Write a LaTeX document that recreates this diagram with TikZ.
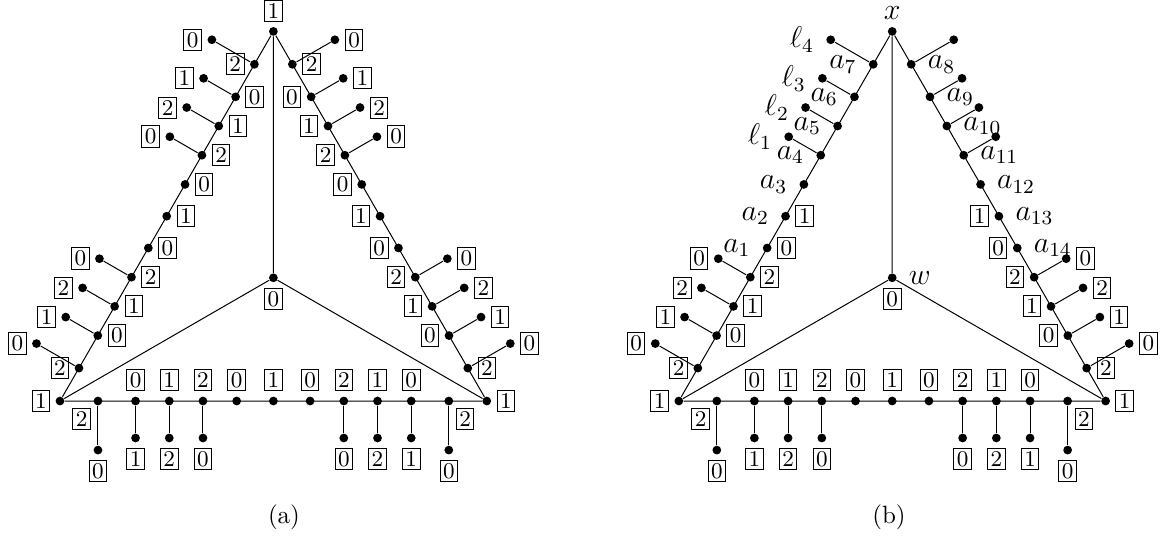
\documentclass[tikz,border=0pt]{standalone}
\usetikzlibrary{calc,positioning}
\begin{document}
\begin{tikzpicture}[
		dot/.style={circle,fill,inner sep=0pt,minimum size=3.5pt},
		num/.style={draw,inner sep=1.2pt,font=\small},
		var/.style={inner sep=1pt,font=\large},
		node distance=2pt]
	\useasboundingbox (-0.8435,-1.8839) rectangle (15.535,5.6376);
	\foreach \d/\sx in {a/0,b/8.7}{
		\node[dot] (\d-L) at (\sx,0) {};
		\node[dot] (\d-R) at (\sx+6,0) {};
		\node[dot] (\d-T) at (\sx+3,5.196) {};
		\node[dot] (\d-w) at (\sx+3,1.732) {};
		\draw (\d-L)--(\d-T)--(\d-R)--(\d-L);
		\draw (\d-w)--(\d-T) (\d-w)--(\d-L) (\d-w)--(\d-R);
		\node[num,left=of \d-L] {1};
		\node[num,right=of \d-R] {1};
		\node[num,below=of \d-w] {0};
		%% points on the sides
		\foreach \p [count=\k] in {0.089,0.177,0.256,0.335,0.414,0.5,0.586,0.665,0.744,0.823,0.911}{
			\node[dot] (\d-l\k) at ($(\d-L)!\p!(\d-T)$) {};
			\node[dot] (\d-r\k) at ($(\d-R)!\p!(\d-T)$) {};
			\node[dot] (\d-b\k) at ($(\d-L)!\p!(\d-R)$) {};
		}
		\foreach \k/\len in {1/0.69,2/0.52,3/0.52,4/0.52,8/0.52,9/0.52,10/0.52,11/0.69}{
			\node[dot] (\d-lx\k) at ($(\d-l\k)+(150:\len)$) {};
			\node[dot] (\d-rx\k) at ($(\d-r\k)+(30:\len)$) {};
			\node[dot] (\d-bx\k) at ($(\d-b\k)+(270:\len)$) {};
			\draw (\d-l\k)--(\d-lx\k);
			\draw (\d-r\k)--(\d-rx\k);
			\draw (\d-b\k)--(\d-bx\k);
		}
		%% bottom
		\foreach \k/\t in {2/0,3/1,4/2,5/0,6/1,7/0,8/2,9/1,10/0}
			\node[num,above=of \d-b\k] {\t};
		\node[num,below left=of \d-b1] {2};
		\node[num,below right=of \d-b11] {2};
		\foreach \k/\t in {1/0,2/1,3/2,4/0,8/0,9/2,10/1,11/0}
			\node[num,below=of \d-bx\k] {\t};
		%% lower part of the sides
		\node[num,left=of \d-l1] {2};
		\node[num,right=of \d-r1] {2};
		\foreach \k/\t in {2/0,3/1,4/2,5/0,6/1}{
			\node[num,right=of \d-l\k] {\t};
			\node[num,left=of \d-r\k] {\t};
		}
		\foreach \k/\t in {1/0,2/1,3/2,4/0}{
			\node[num,left=of \d-lx\k] {\t};
			\node[num,right=of \d-rx\k] {\t};
		}
	}
	%% upper part of (a)
	\node[num,above=of a-T] {1};
	\node[num,left=of a-l11] {2};
	\node[num,right=of a-r11] {2};
	\foreach \k/\t in {7/0,8/2,9/1,10/0}{
		\node[num,right=of a-l\k] {\t};
		\node[num,left=of a-r\k] {\t};
	}
	\foreach \k/\t in {8/0,9/2,10/1,11/0}{
		\node[num,left=of a-lx\k] {\t};
		\node[num,right=of a-rx\k] {\t};
	}
	%% upper part of (b)
	\node[var,above=1.5pt of b-T] {$x$};
	\node[var,right=3.5pt of b-w] {$w$};
	\foreach \k/\i in {5/1,6/2,7/3,8/4,9/5,10/6,11/7}
		\node[var,left=3.5pt of b-l\k] {$a_{\i}$};
	\foreach \k/\i in {8/1,9/2,10/3,11/4}
		\node[var,left=3.5pt of b-lx\k] {$\ell_{\i}$};
	\foreach \k/\i in {11/8,10/9,9/10,8/11,7/12,6/13,5/14}
		\node[var,right=3.5pt of b-r\k] {$a_{\i}$};
	\node (capa) at (3.149,-1.631) {(a)};
	\node (capb) at (11.655,-1.631) {(b)};
\end{tikzpicture}
\end{document}
